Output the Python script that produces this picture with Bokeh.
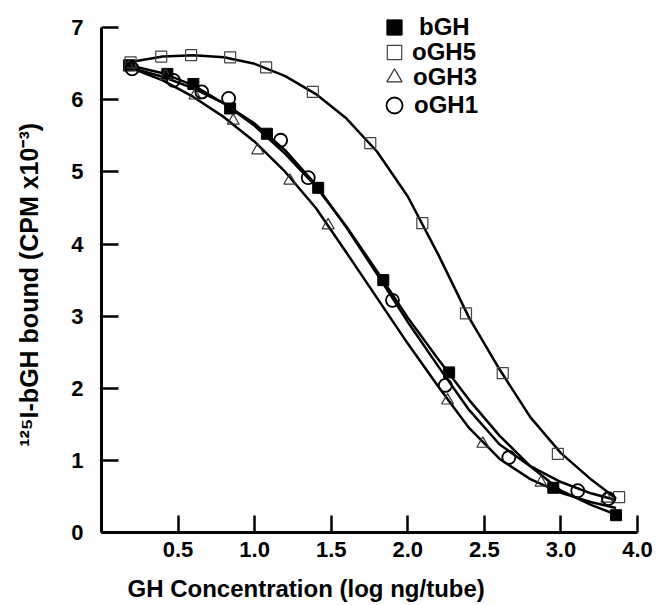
from bokeh.plotting import figure
from bokeh.models import FixedTicker, Legend, LegendItem, Range1d
from bokeh.embed import file_html
from bokeh.resources import INLINE

# ---- data (x in axis units, y in CPM x10^-3) ----
bgh_x = [0.18, 0.43, 0.60, 0.84, 1.08, 1.415, 1.84, 2.27, 2.95, 3.36]
bgh_y = [6.48, 6.36, 6.22, 5.88, 5.53, 4.78, 3.50, 2.22, 0.62, 0.24]

ogh5_x = [0.19, 0.39, 0.585, 0.84, 1.075, 1.38, 1.755, 2.095, 2.38, 2.62, 2.98, 3.38]
ogh5_y = [6.52, 6.60, 6.62, 6.59, 6.45, 6.11, 5.40, 4.29, 3.04, 2.21, 1.09, 0.49]

ogh3_x = [0.18, 0.42, 0.61, 0.86, 1.02, 1.23, 1.48, 2.26, 2.49, 2.87, 3.30]
ogh3_y = [6.45, 6.33, 6.06, 5.71, 5.30, 4.88, 4.26, 1.83, 1.23, 0.69, 0.47]

ogh1_x = [0.20, 0.47, 0.655, 0.83, 1.17, 1.35, 1.90, 2.245, 2.66, 3.11, 3.31]
ogh1_y = [6.43, 6.27, 6.11, 6.02, 5.44, 4.92, 3.22, 2.04, 1.04, 0.58, 0.47]

# fitted curves
curve_x = [0.18, 0.4, 0.6, 0.8, 1.0, 1.2, 1.4, 1.6, 1.8, 2.0, 2.2, 2.4, 2.6, 2.8, 3.0, 3.2, 3.36]
bgh_fit = [6.48, 6.37, 6.20, 5.95, 5.64, 5.25, 4.80, 4.24, 3.62, 2.98, 2.40, 1.84, 1.34, 0.92, 0.58, 0.38, 0.25]
ogh5_fit = [6.52, 6.60, 6.62, 6.59, 6.50, 6.33, 6.08, 5.74, 5.28, 4.66, 3.85, 2.98, 2.26, 1.60, 1.10, 0.73, 0.47]
ogh3_fit = [6.45, 6.27, 6.04, 5.76, 5.42, 5.00, 4.50, 3.88, 3.25, 2.62, 2.02, 1.45, 1.02, 0.74, 0.55, 0.42, 0.34]
ogh1_fit = [6.45, 6.32, 6.16, 5.95, 5.67, 5.30, 4.82, 4.23, 3.58, 2.92, 2.30, 1.70, 1.22, 0.92, 0.70, 0.54, 0.45]

x_ticks = [0.5, 1.0, 1.5, 2.0, 2.5, 3.0, 3.5]
x_tick_labels = ["0.5", "1.0", "1.5", "2.0", "2.5", "3.0", "4.0"]
y_ticks = [0, 1, 2, 3, 4, 5, 6, 7]
series_labels = ["bGH", "oGH5", "oGH3", "oGH1"]
x_title = "GH Concentration (log ng/tube)"
y_title = "\u00b9\u00b2\u2075I-bGH bound (CPM x10\u207b\u00b3)"

FONT = "Liberation Sans"
NBSP = "\u00a0"

p = figure(width=655, height=605, output_backend="svg", toolbar_location=None,
           x_range=Range1d(0, 3.5), y_range=Range1d(0, 7.35),
           min_border_left=101, min_border_right=18, min_border_top=2, min_border_bottom=73)
p.outline_line_color = None
p.xgrid.visible = False
p.ygrid.visible = False

for ax in (p.xaxis[0], p.yaxis[0]):
    ax.axis_line_width = 3
    ax.major_tick_line_width = 2.5
    ax.major_tick_in = 17
    ax.major_tick_out = 0
    ax.minor_tick_line_color = None
    ax.major_label_text_font = FONT
    ax.major_label_text_font_style = "bold"
    ax.major_label_text_font_size = "22px"
    ax.major_label_text_color = "black"
    ax.axis_label_text_font = FONT
    ax.axis_label_text_font_style = "bold"
    ax.axis_label_text_color = "black"

p.xaxis.ticker = FixedTicker(ticks=x_ticks)
p.xaxis.major_label_overrides = {t: l for t, l in zip(x_ticks, x_tick_labels)}
p.xaxis.major_label_standoff = 9
# trailing no-break spaces shift the title left of the frame centre, as in the reference
p.xaxis.axis_label = x_title + NBSP * 19
p.xaxis.axis_label_text_font_size = "24px"
p.xaxis.axis_label_standoff = 15

p.yaxis.ticker = FixedTicker(ticks=y_ticks)
p.yaxis.bounds = (0, 7)
p.yaxis.major_label_standoff = 18
p.yaxis.axis_label = y_title + NBSP * 5
p.yaxis.axis_label_text_font_size = "25px"
p.yaxis.axis_label_standoff = 25

# curves
for fit in (ogh5_fit, ogh3_fit, ogh1_fit, bgh_fit):
    p.line(curve_x, fit, line_color="black", line_width=2.5)

# markers
r_bgh = p.scatter(bgh_x, bgh_y, marker="square", size=11, fill_color="black", line_color="black")
r_o5 = p.scatter(ogh5_x, ogh5_y, marker="square", size=11, fill_alpha=0, line_color="#444444", line_width=1.2)
r_o3 = p.scatter(ogh3_x, ogh3_y, marker="triangle", size=12, fill_alpha=0, line_color="#333333", line_width=1.2)
r_o1 = p.scatter(ogh1_x, ogh1_y, marker="circle", size=13, fill_alpha=0, line_color="black", line_width=1.8)

# one legend per row so that the legend symbols can be large while rows stay close
rows = [
    (r_bgh, (274, 486), 38, 6),
    (r_o5, (275, 462), 36, 0),
    (r_o3, (274, 436), 38, 0),
    (r_o1, (273, 407), 40, 0),
]
for lab, (rend, loc, gsize, standoff) in zip(series_labels, rows):
    lg = Legend(items=[LegendItem(label=lab, renderers=[rend])], location=loc,
                glyph_width=gsize, glyph_height=gsize, spacing=0, padding=0,
                label_standoff=standoff, label_text_font=FONT,
                label_text_font_style="bold", label_text_font_size="24px",
                label_text_color="black", label_height=gsize,
                background_fill_alpha=0, border_line_color=None)
    p.add_layout(lg, "center")

open("out.html", "w").write(file_html(p, INLINE))
